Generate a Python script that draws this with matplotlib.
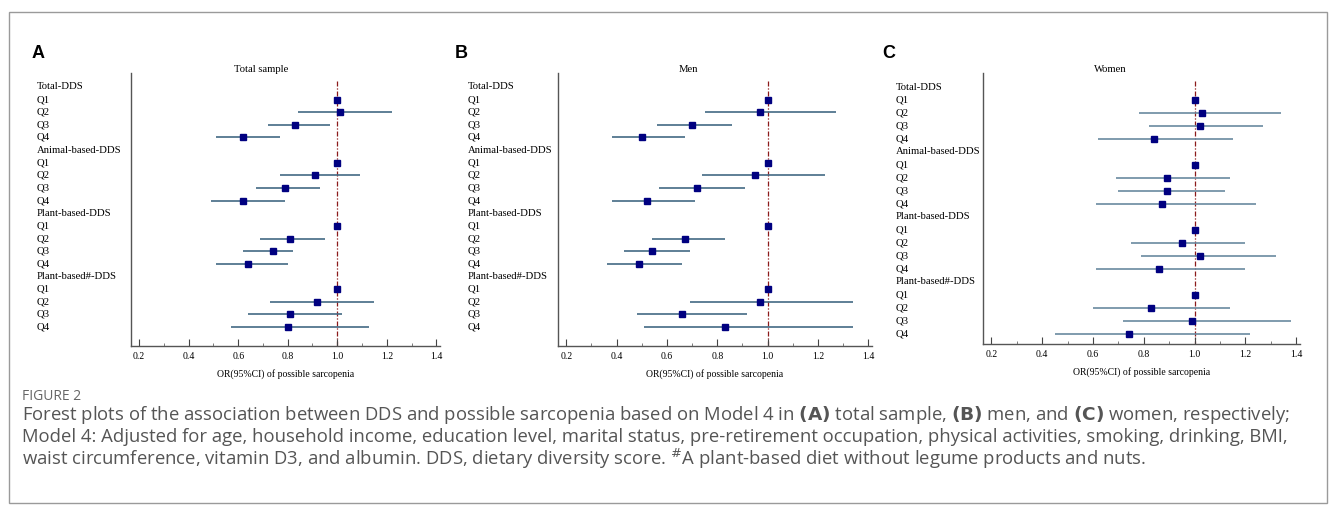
import matplotlib.pyplot as plt
import matplotlib.patches as patches
import matplotlib.transforms as mtransforms
import numpy as np

# row labels (header rows have no estimate)
labels = ["Total-DDS", "Q1", "Q2", "Q3", "Q4",
          "Animal-based-DDS", "Q1", "Q2", "Q3", "Q4",
          "Plant-based-DDS", "Q1", "Q2", "Q3", "Q4",
          "Plant-based#-DDS", "Q1", "Q2", "Q3", "Q4"]

# OR and 95% CI for Q1..Q4 of each score, in row order
total_or = [1.00, 1.01, 0.83, 0.62, 1.00, 0.91, 0.79, 0.62, 1.00, 0.81, 0.74, 0.64, 1.00, 0.92, 0.81, 0.80]
total_lo = [1.00, 0.84, 0.72, 0.51, 1.00, 0.77, 0.67, 0.49, 1.00, 0.69, 0.62, 0.51, 1.00, 0.73, 0.64, 0.57]
total_hi = [1.00, 1.22, 0.97, 0.77, 1.00, 1.09, 0.93, 0.79, 1.00, 0.95, 0.82, 0.80, 1.00, 1.15, 1.02, 1.13]

men_or = [1.00, 0.97, 0.70, 0.50, 1.00, 0.95, 0.72, 0.52, 1.00, 0.67, 0.54, 0.49, 1.00, 0.97, 0.66, 0.83]
men_lo = [1.00, 0.75, 0.56, 0.38, 1.00, 0.74, 0.57, 0.38, 1.00, 0.54, 0.43, 0.36, 1.00, 0.69, 0.48, 0.51]
men_hi = [1.00, 1.27, 0.86, 0.67, 1.00, 1.23, 0.91, 0.71, 1.00, 0.83, 0.69, 0.66, 1.00, 1.34, 0.92, 1.34]

women_or = [1.00, 1.03, 1.02, 0.84, 1.00, 0.89, 0.89, 0.87, 1.00, 0.95, 1.02, 0.86, 1.00, 0.83, 0.99, 0.74]
women_lo = [1.00, 0.78, 0.82, 0.62, 1.00, 0.69, 0.70, 0.61, 1.00, 0.75, 0.79, 0.61, 1.00, 0.60, 0.72, 0.45]
women_hi = [1.00, 1.34, 1.27, 1.15, 1.00, 1.14, 1.12, 1.24, 1.00, 1.20, 1.32, 1.20, 1.00, 1.14, 1.38, 1.22]

xticks = [0.2, 0.4, 0.6, 0.8, 1.0, 1.2, 1.4]
xlabel = "OR(95%CI) of possible sarcopenia"

W, H = 1336, 508
fig = plt.figure(figsize=(W / 100, H / 100), dpi=100)
serif = "Liberation Serif"

# panel specs: letter, title, data, axis box (pixels), label x, letter x, title x, ylim, CI colour
panels = [
    ("A", "Total sample", total_or, total_lo, total_hi, (131, 73, 440, 346), 37, 32, 261, (-1.1, 20.5), "#436a84"),
    ("B", "Men", men_or, men_lo, men_hi, (558, 73, 872, 346), 468, 455, 688, (-1.1, 20.5), "#436a84"),
    ("C", "Women", women_or, women_lo, women_hi, (983, 73, 1300, 344), 896, 882, 1110, (-1.08, 19.8), "#6a8aa0"),
]

data_rows = [i for i, lab in enumerate(labels) if lab.startswith("Q")]

for letter, title, ors, los, his, box, lab_x, let_x, tit_x, ylim, cicol in panels:
    x0, y0, x1, y1 = box
    ax = fig.add_axes([x0 / W, 1 - y1 / H, (x1 - x0) / W, (y1 - y0) / H])
    ax.set_xlim(0.167, 1.415)
    ax.set_ylim(ylim[1], ylim[0])

    ax.vlines(1.0, -0.5, ylim[1], colors="#8b1a1a", linestyles=(0, (4, 1.5, 1, 1.5)), lw=0.9, zorder=1)
    ax.hlines(data_rows, los, his, colors=cicol, lw=1.2, zorder=2)
    ax.plot(ors, data_rows, "s", color="#000080", ms=4.2, zorder=3)

    ax.set_xticks(xticks)
    ax.set_xticklabels([f"{t:.1f}" for t in xticks], fontfamily=serif, fontsize=7)
    ax.set_xticks(np.arange(0.3, 1.4, 0.2), minor=True)
    ax.tick_params(axis="x", which="major", direction="in", length=5, width=0.8, color="#444", pad=4)
    ax.tick_params(axis="x", which="minor", direction="in", length=2.5, width=0.6, color="#666")
    ax.set_yticks([])
    for s in ["top", "right"]:
        ax.spines[s].set_visible(False)
    for s in ["left", "bottom"]:
        ax.spines[s].set_color("#555555")
        ax.spines[s].set_linewidth(1.0)
    ax.set_xlabel(xlabel, fontfamily=serif, fontsize=7, labelpad=6)

    trans = mtransforms.blended_transform_factory(fig.transFigure, ax.transData)
    for i, lab in enumerate(labels):
        ax.text(lab_x / W, i, lab, transform=trans, fontfamily=serif, fontsize=7.7,
                ha="left", va="center", clip_on=False)

    fig.text(tit_x / W, 1 - 70 / H, title, fontfamily=serif, fontsize=7.7, ha="center", va="center")
    fig.text(let_x / W, 1 - 53 / H, letter, fontfamily="Liberation Sans", fontweight="bold",
             fontsize=13, ha="left", va="center")

# outer frame
fig.add_artist(patches.Rectangle((9 / W, 1 - 503 / H), (1327 - 9) / W, (503 - 12) / H,
                                 transform=fig.transFigure, fill=False, ec="#9a9a9a", lw=1))

cap_col = "#555555"
cap_size = 13.3
fig.text(22 / W, 1 - 397 / H, "FIGURE 2", fontfamily="Open Sans", fontsize=10,
         color="#666666", ha="left", va="center")
fig.text(22 / W, 1 - 415 / H,
         r"Forest plots of the association between DDS and possible sarcopenia based on Model 4 in $\mathbf{(A)}$ total sample, "
         r"$\mathbf{(B)}$ men, and $\mathbf{(C)}$ women, respectively;",
         fontfamily="Open Sans", fontsize=cap_size, color=cap_col, ha="left", va="center")
fig.text(22 / W, 1 - 437 / H,
         "Model 4: Adjusted for age, household income, education level, marital status, pre-retirement occupation, "
         "physical activities, smoking, drinking, BMI,",
         fontfamily="Open Sans", fontsize=cap_size, color=cap_col, ha="left", va="center")
fig.text(22 / W, 1 - 459 / H,
         "waist circumference, vitamin D3, and albumin. DDS, dietary diversity score. $^{\\#}$A plant-based diet "
         "without legume products and nuts.",
         fontfamily="Open Sans", fontsize=cap_size, color=cap_col, ha="left", va="center")

fig.savefig("out.png", dpi=100)
plt.close(fig)
